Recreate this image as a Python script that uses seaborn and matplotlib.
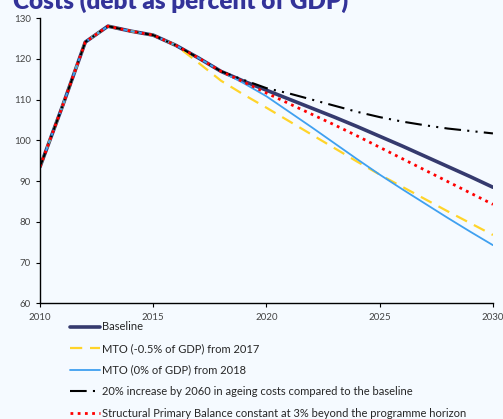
import matplotlib
matplotlib.use("Agg")
import matplotlib.pyplot as plt
import seaborn as sns
import pandas as pd

# years and debt series (percent of GDP)
years = list(range(2010, 2031))
common = [93.5, 108.5, 124.1, 128.0, 126.8, 125.8, 123.3, 120.2, 116.9]  # 2010-2018

baseline = common + [114.5, 112.3, 110.1, 107.9, 105.7, 103.4, 101.0, 98.6, 96.1, 93.6, 91.1, 88.5]
mto_05 = common[:7] + [119.0, 114.6, 111.2, 108.0, 104.7, 101.4, 98.1, 94.8, 91.6, 88.6, 85.6, 82.6, 79.7, 76.8]
mto_0 = common + [114.0, 110.8, 107.0, 103.2, 99.3, 95.4, 91.6, 88.0, 84.5, 81.0, 77.6, 74.3]
ageing = common + [114.8, 112.8, 111.5, 110.0, 108.5, 107.0, 105.7, 104.6, 103.7, 102.9, 102.3, 101.7]
spb = common + [114.3, 111.6, 109.0, 106.4, 103.8, 101.1, 98.3, 95.5, 92.7, 89.9, 87.1, 84.3]

labels = ["Baseline",
          "MTO (-0.5% of GDP) from 2017",
          "MTO (0% of GDP) from 2018",
          "20% increase by 2060 in ageing costs compared to the baseline",
          "Structural Primary Balance constant at 3% beyond the programme horizon"]

bg = "#F5FAFF"
sns.set_style("ticks")
plt.rcParams["font.family"] = ["Lato", "DejaVu Sans"]

fig = plt.figure(figsize=(5.03, 4.19), dpi=100, facecolor=bg)
ax = fig.add_axes([0.0795, 0.2757, 0.9005, 0.6813])
ax.set_facecolor(bg)

series = [baseline, mto_05, mto_0, ageing, spb]
styles = [
    dict(color="#353A6E", linewidth=2.6, linestyle="-"),
    dict(color="#FFD42A", linewidth=1.6, linestyle=(0, (5.5, 3.5))),
    dict(color="#3FA0F0", linewidth=1.3, linestyle="-"),
    dict(color="black", linewidth=1.5, linestyle=(0, (8, 3, 1, 3, 1, 3))),
    dict(color="#FF0000", linewidth=2.0, linestyle=(0, (1, 1.6))),
]
for vals, lab, st in zip(series, labels, styles):
    df = pd.DataFrame({"year": years[:len(vals)], "debt": vals})
    sns.lineplot(data=df, x="year", y="debt", ax=ax, label=lab, **st)

ax.set_xlim(2010, 2030)
ax.set_ylim(60, 130)
ax.set_xticks(range(2010, 2031, 5))
ax.set_yticks(range(60, 131, 10))
ax.set_xlabel("")
ax.set_ylabel("")
ax.tick_params(labelsize=7, colors="black", labelcolor="#444444", length=3, width=0.8)
sns.despine(ax=ax)
for s in ["left", "bottom"]:
    ax.spines[s].set_color("black")
    ax.spines[s].set_linewidth(1.0)

handles, labs = ax.get_legend_handles_labels()
ax.get_legend().remove()
fig.legend(handles, labs, loc="upper left", bbox_to_anchor=(0.139, 0.2327),
           frameon=False, fontsize=8, handlelength=2.7, handletextpad=0.2,
           labelspacing=0.95, borderaxespad=0, borderpad=0)

# title sits partly above the canvas, as in the source image
fig.text(0.026, 0.9785, "Costs (debt as percent of GDP)", fontsize=17.5,
         fontweight="heavy", color="#333399", va="baseline", ha="left")

fig.savefig("out.png", dpi=100, facecolor=bg)
